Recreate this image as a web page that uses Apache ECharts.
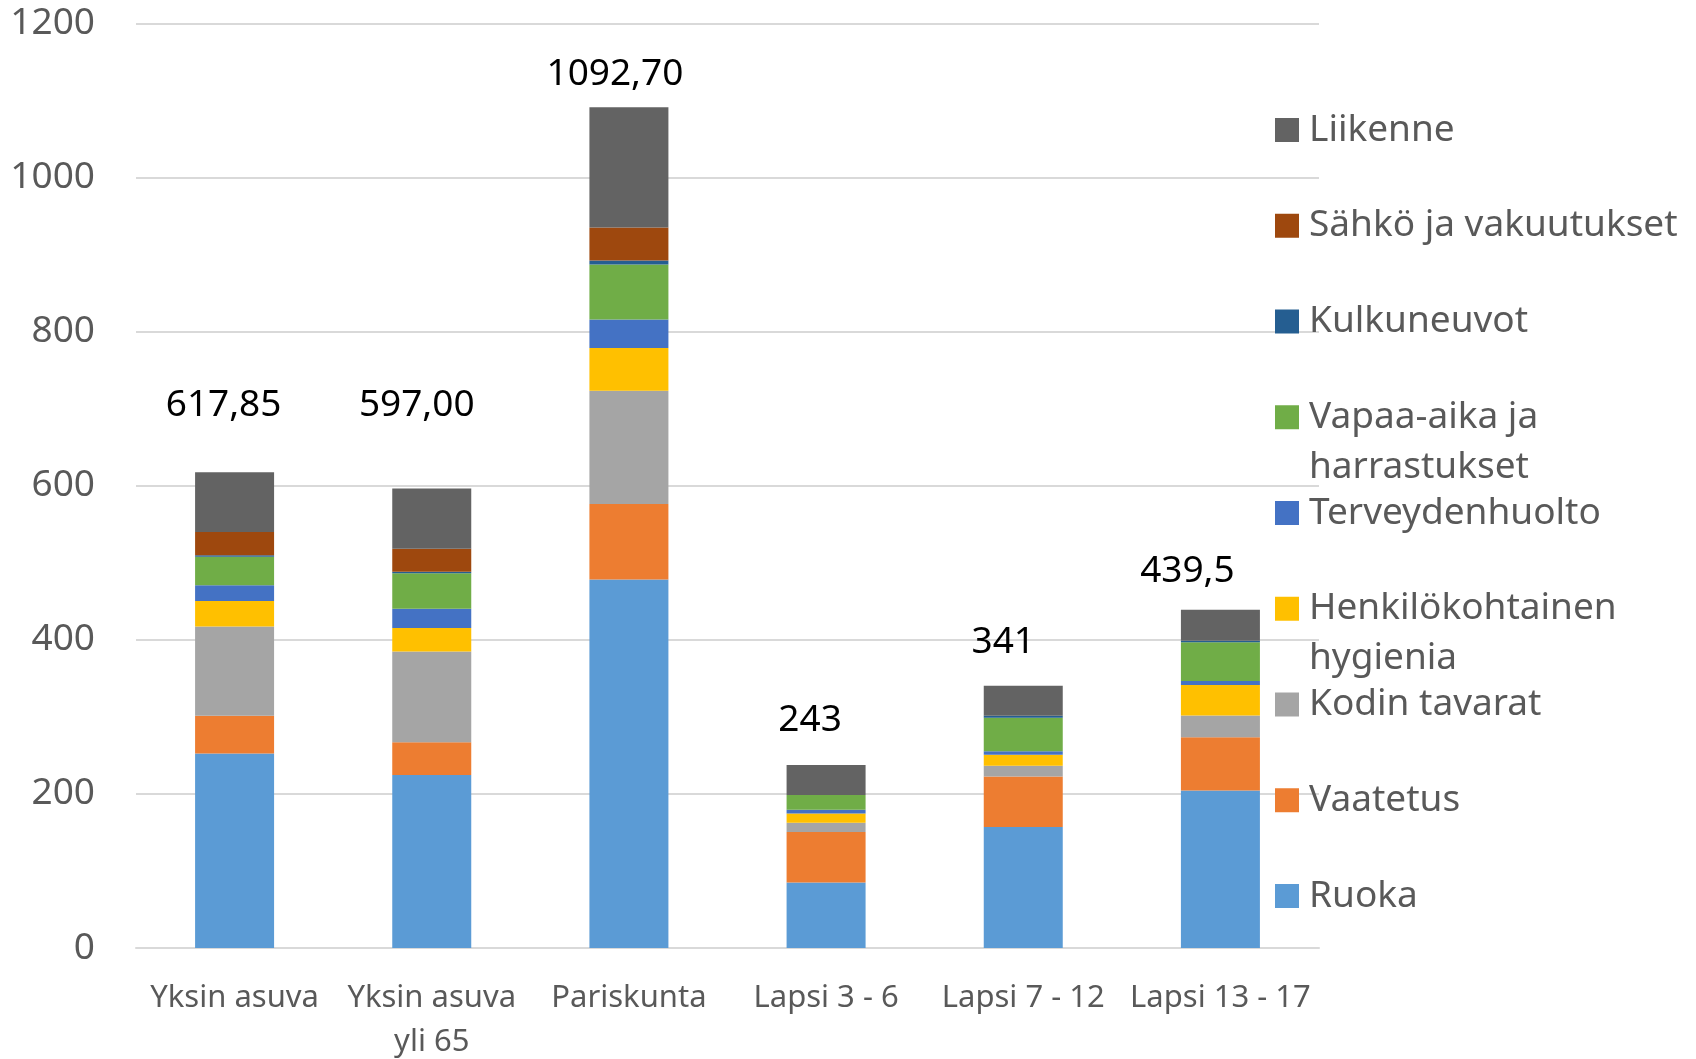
<!DOCTYPE html>
<html>
<head>
<meta charset="utf-8">
<script src="https://cdn.jsdelivr.net/npm/echarts@6/dist/echarts.min.js"></script>
<style>
  html, body { margin: 0; padding: 0; background: #fff; }
  #chart { width: 1696px; height: 1059px; }
</style>
</head>
<body>
<div id="chart"></div>
<script>
// categories on the x axis
const categories = ['Yksin asuva', 'Yksin asuva\nyli 65', 'Pariskunta', 'Lapsi 3 - 6', 'Lapsi 7 - 12', 'Lapsi 13 - 17'];

// stacked segments, bottom to top
const ruoka      = [252.5, 224.5, 478.5, 85, 157, 204.5];
const vaatetus   = [49, 42.5, 98, 65.5, 65.5, 69];
const kodin      = [116, 118, 147, 12, 14, 28.5];
const hygienia   = [33, 30.5, 55.5, 12, 14.5, 39.5];
const terveys    = [20.5, 25, 37, 5, 4.5, 5];
const vapaaAika  = [37, 46, 71.5, 19, 43.5, 50.5];
const kulkuneuvot = [2, 2, 5, 0, 2.5, 2];
const sahko      = [30, 30, 43, 0, 0, 0];
const liikenne   = [77.5, 78, 156, 39, 39, 40];

// totals written above the bars
const totals      = [617.85, 597.00, 1092.70, 243, 341, 439.5];
const totalLabels = ['617,85', '597,00', '1092,70', '243', '341', '439,5'];

const yTicks = { min: 0, max: 1200, interval: 200 };

const seriesDefs = [
  { name: 'Ruoka', data: ruoka, color: '#5B9BD5' },
  { name: 'Vaatetus', data: vaatetus, color: '#ED7D31' },
  { name: 'Kodin tavarat', data: kodin, color: '#A5A5A5' },
  { name: 'Henkilökohtainen hygienia', data: hygienia, color: '#FFC000', legendText: 'Henkilökohtainen\nhygienia' },
  { name: 'Terveydenhuolto', data: terveys, color: '#4472C4' },
  { name: 'Vapaa-aika ja harrastukset', data: vapaaAika, color: '#70AD47', legendText: 'Vapaa-aika ja\nharrastukset' },
  { name: 'Kulkuneuvot', data: kulkuneuvot, color: '#255E91' },
  { name: 'Sähkö ja vakuutukset', data: sahko, color: '#9E480E' },
  { name: 'Liikenne', data: liikenne, color: '#636363' },
];

const FONT = '"Noto Sans", "Open Sans", sans-serif';
const TEXT = '#595959';

// label nudges, as in the original (labels were placed by hand)
const labelNudge = [[-11, -47], [-15, -63], [-14, -12], [-16, -21], [-20, -23], [-33, -19]];

const chart = echarts.init(document.getElementById('chart'));

const barSeries = seriesDefs.map((s) => ({
  name: s.name,
  type: 'bar',
  stack: 'total',
  barWidth: 79,
  data: s.data,
  itemStyle: { color: s.color },
  emphasis: { disabled: true },
}));

const totalSeries = {
  name: 'Yhteensä',
  type: 'line',
  data: totals.map((v, i) => ({ value: v, label: { offset: labelNudge[i] } })),
  symbol: 'circle',
  symbolSize: 1,
  itemStyle: { color: 'rgba(0,0,0,0)' },
  lineStyle: { opacity: 0 },
  silent: true,
  z: 10,
  label: {
    show: true,
    position: 'top',
    distance: 0,
    fontFamily: FONT,
    fontSize: 37,
    lineHeight: 38,
    color: '#000',
    formatter: (p) => totalLabels[p.dataIndex],
  },
};

// one legend per entry so the rows keep an even pitch, top row first.
// wrapped entries get a blank first line so the icon sits by the first text line
const legendRows = seriesDefs.slice().reverse();
const legends = legendRows.map((s, i) => {
  const center = 130 + i * 95.75;
  const wrapped = !!s.legendText;
  return {
    data: [s.name],
    left: 1275,
    top: wrapped ? center - 75 : center - 25,
    padding: 0,
    icon: 'rect',
    itemWidth: 24,
    itemHeight: 24,
    selectedMode: false,
    formatter: () => (wrapped ? '\n' + s.legendText : s.name),
    textStyle: {
      fontFamily: FONT,
      fontSize: 37,
      color: TEXT,
      lineHeight: 50,
      backgroundColor: 'rgba(0,0,0,0)',
      padding: [0, 0, 0, 5],
    },
  };
});

chart.setOption({
  animation: false,
  backgroundColor: '#fff',
  grid: { left: 136, right: 377, top: 23.7, bottom: 111, outerBoundsMode: 'none', containLabel: false },
  legend: legends,
  xAxis: {
    type: 'category',
    data: categories,
    axisLine: { lineStyle: { color: '#D9D9D9', width: 2 } },
    axisTick: { show: false },
    axisLabel: {
      interval: 0,
      margin: 28,
      fontFamily: FONT,
      fontSize: 31,
      lineHeight: 44,
      color: TEXT,
    },
  },
  yAxis: {
    type: 'value',
    min: yTicks.min,
    max: yTicks.max,
    interval: yTicks.interval,
    axisLine: { show: false },
    axisTick: { show: false },
    splitLine: { lineStyle: { color: '#D9D9D9', width: 2 } },
    axisLabel: {
      margin: 41,
      fontFamily: FONT,
      fontSize: 37,
      color: TEXT,
      formatter: (v) => String(v),
    },
  },
  series: [...barSeries, totalSeries],
});
</script>
</body>
</html>
